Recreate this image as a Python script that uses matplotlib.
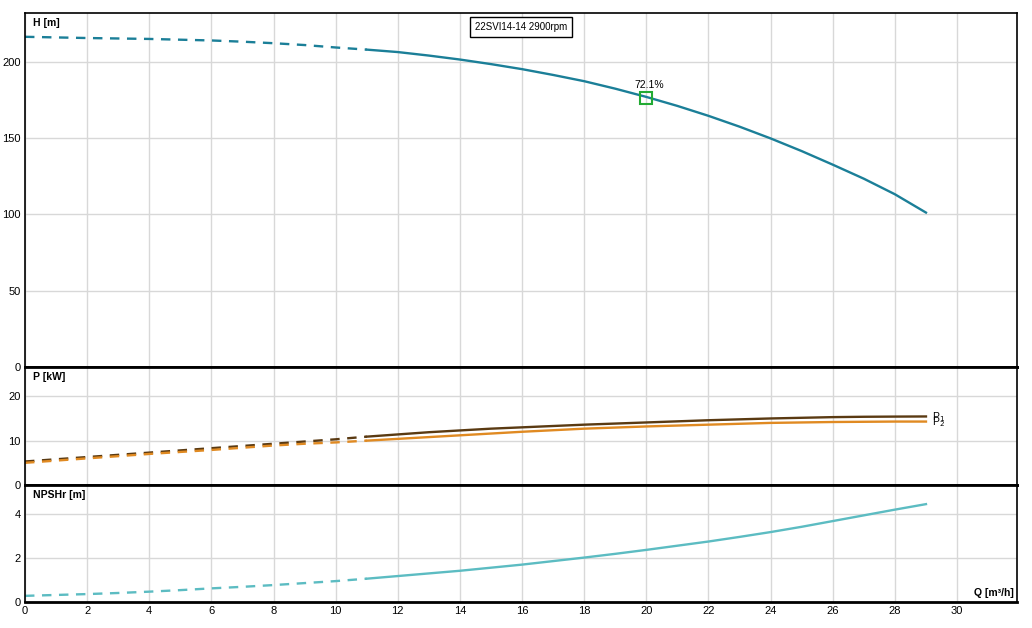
import matplotlib
matplotlib.use("Agg")
import matplotlib.pyplot as plt

# ---- data ----
q_dash = [0, 1, 2, 3, 4, 5, 6, 7, 8, 9, 10, 11]
q_solid = [11, 12, 13, 14, 15, 16, 17, 18, 19, 20, 21, 22, 23, 24, 25, 26, 27, 28, 29]

h_dash = [216.4, 216.0, 215.6, 215.3, 215.0, 214.5, 214.0, 213.2, 212.2, 211.0, 209.4, 208.0]
h_solid = [208.0, 206.4, 204.1, 201.5, 198.5, 195.2, 191.4, 187.3, 182.4, 177.0,
           171.1, 164.6, 157.5, 149.8, 141.5, 132.6, 123.4, 113.2, 101.2]

p1_dash = [5.3, 5.8, 6.3, 6.8, 7.3, 7.8, 8.3, 8.8, 9.3, 9.8, 10.3, 10.9]
p1_solid = [10.9, 11.4, 11.9, 12.3, 12.7, 13.0, 13.3, 13.6, 13.85, 14.1, 14.35, 14.6,
            14.8, 15.0, 15.15, 15.3, 15.38, 15.42, 15.45]
p2_dash = [5.0, 5.5, 6.0, 6.5, 7.0, 7.45, 7.9, 8.4, 8.9, 9.3, 9.6, 10.0]
p2_solid = [10.0, 10.4, 10.8, 11.2, 11.6, 12.0, 12.35, 12.7, 12.95, 13.2, 13.4, 13.6,
            13.8, 14.0, 14.1, 14.2, 14.25, 14.3, 14.3]

npsh_dash = [0.28, 0.32, 0.36, 0.41, 0.47, 0.54, 0.62, 0.69, 0.77, 0.86, 0.95, 1.06]
npsh_solid = [1.06, 1.18, 1.30, 1.42, 1.56, 1.70, 1.86, 2.02, 2.19, 2.37, 2.56, 2.75,
              2.96, 3.18, 3.42, 3.68, 3.94, 4.2, 4.45]

bep_q = 20.0
bep_h = 176.3
bep_label = "72.1%"
title = "22SVI14-14 2900rpm"

x_ticks = [0, 2, 4, 6, 8, 10, 12, 14, 16, 18, 20, 22, 24, 26, 28, 30]
h_ticks = [0, 50, 100, 150, 200]
p_ticks = [0, 10, 20]
n_ticks = [0, 2, 4]

# ---- style ----
c_h = "#1b7f98"
c_p1 = "#5a3a12"
c_p2 = "#e08a22"
c_n = "#5cbcc2"
grid_c = "#d8d8d8"
lw = 1.7
dash = (0, (4, 3.2))

plt.rcParams['font.family'] = ['Liberation Sans', 'DejaVu Sans']

fig = plt.figure(figsize=(10.32, 6.28), dpi=100)
L, R = 25 / 1032, 1017 / 1032
def yf(p):
    return 1 - p / 628

ax1 = fig.add_axes([L, yf(367), R - L, yf(13) - yf(367)])
ax2 = fig.add_axes([L, yf(485), R - L, yf(367) - yf(485)], sharex=ax1)
ax3 = fig.add_axes([L, yf(602), R - L, yf(485) - yf(602)], sharex=ax1)

for ax in (ax1, ax2, ax3):
    ax.set_xlim(0, 31.93)
    ax.set_xticks(x_ticks)
    ax.grid(True, color=grid_c, linewidth=1)
    ax.set_axisbelow(True)
    ax.tick_params(axis='both', length=0, labelsize=8, pad=3, colors='black')
    for s in ax.spines.values():
        s.set_color('black')
        s.set_linewidth(1.2)
    ax.spines['bottom'].set_linewidth(2)

ax1.tick_params(labelbottom=False)
ax2.tick_params(labelbottom=False)
ax3.spines['top'].set_linewidth(2)
ax2.spines['top'].set_linewidth(2)

# H panel
ax1.set_ylim(0, 232)
ax1.set_yticks(h_ticks)
ax1.plot(q_dash, h_dash, color=c_h, lw=lw, ls=dash)
ax1.plot(q_solid, h_solid, color=c_h, lw=lw)
ax1.plot([bep_q], [bep_h], marker='s', ms=8, mfc='none', mec='#22aa33', mew=1.5)
ax1.text(bep_q + 0.1, bep_h + 5, bep_label, ha='center', va='bottom', fontsize=7.5)
ax1.text(0.008, 0.985, "H [m]", transform=ax1.transAxes, ha='left', va='top',
         fontsize=7.5, fontweight='bold')
ax1.text(0.5, 0.975, title, transform=ax1.transAxes, ha='center', va='top',
         fontsize=7, bbox=dict(boxstyle='square,pad=0.5', fc='white', ec='black', lw=1))

# P panel
ax2.set_ylim(0, 26.6)
ax2.set_yticks(p_ticks)
ax2.plot(q_dash, p1_dash, color=c_p1, lw=lw, ls=dash)
ax2.plot(q_solid, p1_solid, color=c_p1, lw=lw)
ax2.plot(q_dash, p2_dash, color=c_p2, lw=lw, ls=dash)
ax2.plot(q_solid, p2_solid, color=c_p2, lw=lw)
ax2.text(29.2, p1_solid[-1] - 0.1, "P$_1$", ha='left', va='center', fontsize=7.5)
ax2.text(29.2, p2_solid[-1] - 0.2, "P$_2$", ha='left', va='center', fontsize=7.5)
ax2.text(0.008, 0.96, "P [kW]", transform=ax2.transAxes, ha='left', va='top',
         fontsize=7.5, fontweight='bold')

# NPSH panel
ax3.set_ylim(0, 5.32)
ax3.set_yticks(n_ticks)
ax3.plot(q_dash, npsh_dash, color=c_n, lw=lw, ls=dash)
ax3.plot(q_solid, npsh_solid, color=c_n, lw=lw)
ax3.text(0.008, 0.96, "NPSHr [m]", transform=ax3.transAxes, ha='left', va='top',
         fontsize=7.5, fontweight='bold')
ax3.text(0.997, 0.03, "Q [m³/h]", transform=ax3.transAxes, ha='right', va='bottom',
         fontsize=7.5, fontweight='bold')

fig.savefig("out.png", dpi=100)
